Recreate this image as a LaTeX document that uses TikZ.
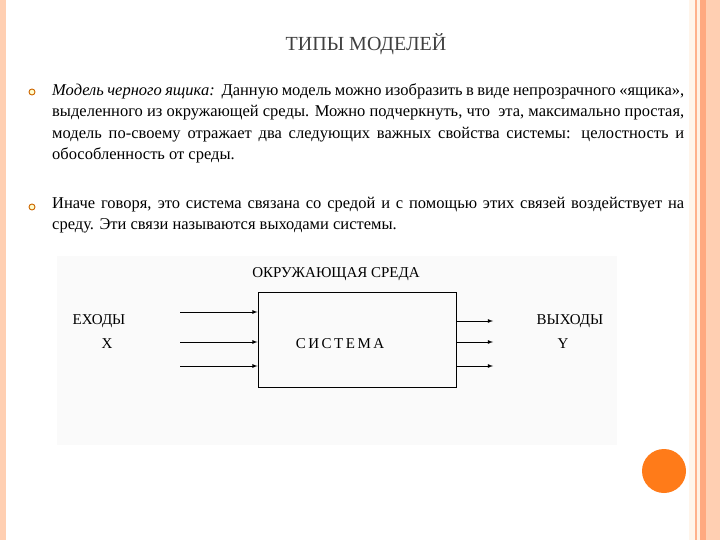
\documentclass[tikz,border=0pt]{standalone}
\usepackage{fontspec}
\setmainfont{Liberation Serif}
\begin{document}
\begin{tikzpicture}[x=1pt,y=-1pt,
  body/.style={anchor=north west,inner sep=0pt,text width=632pt,align=justify,font=\fontsize{16.5}{21.5}\selectfont},
  bul/.style={circle,draw=orange!80!black,fill=yellow!20,line width=0.9pt,inner sep=0pt,minimum size=6pt},
  lbl/.style={font=\fontsize{15}{17}\selectfont},
  arr/.style={-latex,line width=0.8pt}]
\useasboundingbox (0,0) rectangle (720,540);
\fill[white] (0,0) rectangle (720,540);
% frame bands
\fill[red!25!orange!30] (0,0) rectangle (6,540);
\fill[orange!8] (689,0) rectangle (695,540);
\fill[red!35!orange!45] (695,0) rectangle (697,540);
\fill[orange!10] (697,0) rectangle (700,540);
\fill[red!35!orange!50] (700,0) rectangle (706,540);
\fill[red!25!orange!30] (706,0) rectangle (720,540);
% title
\node[font=\fontsize{20}{24}\selectfont,text=black!75] (title) at (366,44) {ТИПЫ МОДЕЛЕЙ};
% bullets
\node[bul] (b1) at (32,92) {};
\node[body] (t1) at (52,83) {\textit{Модель черного ящика:}\ \ Данную модель можно изобразить в виде непрозрачного «ящика», выделенного из окружающей среды. Можно подчеркнуть, что\ \ эта, максимально простая, модель по-своему отражает два следующих важных свойства системы: целостность и обособленность от среды.};
\node[bul] (b2) at (32,207) {};
\node[body] (t2) at (52,197) {Иначе говоря, это система связана со средой и с помощью этих связей воздействует на среду. Эти связи называются выходами системы.};
% diagram
\fill[black!2] (57,256) rectangle (617,445);
\node[draw,line width=0.9pt,minimum width=198pt,minimum height=95pt,inner sep=0pt] (sys) at (357,339.5) {};
\node[font=\fontsize{15}{17}\selectfont] (systxt) at (340,344) {С\,И\,С\,Т\,Е\,М\,А};
\node[lbl] (env) at (336,274) {ОКРУЖАЮЩАЯ СРЕДА};
\node[lbl] (in) at (99,321) {ЕХОДЫ};
\node[lbl] (x) at (107,344) {X};
\node[lbl] (out) at (570,321) {ВЫХОДЫ};
\node[lbl] (y) at (563,344) {Y};
\foreach \yy/\n in {312/a,342/b,366/c}{
  \coordinate (i\n) at (180,\yy);
  \draw[arr] (i\n) -- (sys.west |- i\n);
}
\foreach \yy/\n in {321/a,342/b,366/c}{
  \coordinate (o\n) at (493,\yy);
  \draw[arr] (sys.east |- o\n) -- (o\n);
}
% orange circle
\node[circle,fill=orange!85!red!90,minimum size=44pt,inner sep=0pt] (dot) at (664,471) {};
\end{tikzpicture}
\end{document}
